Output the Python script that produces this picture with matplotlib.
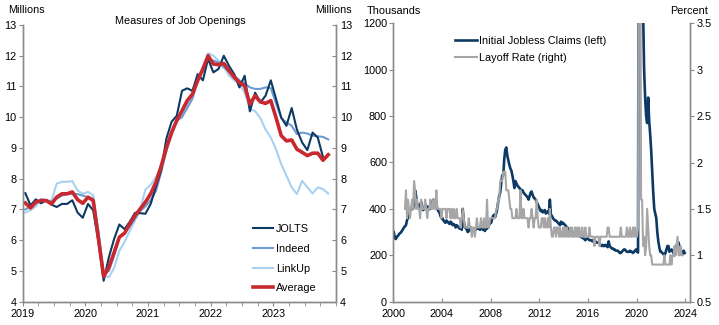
import numpy as np
import matplotlib.pyplot as plt
from matplotlib.ticker import MultipleLocator, FixedLocator

plt.rcParams['font.family'] = ['Liberation Sans', 'DejaVu Sans']
plt.rcParams['font.size'] = 7.8

# ---- left panel: job openings, monthly Jan 2019 onwards (millions)
jolts = [7.53, 7.13, 7.33, 7.2, 7.3, 7.16, 7.08, 7.18, 7.18, 7.3, 6.9, 6.73,
         7.18, 6.97, 5.95, 4.68, 5.45, 6.04, 6.51, 6.36, 6.6, 6.89, 6.88, 6.86,
         7.18, 7.73, 8.27, 9.3, 9.85, 10.05, 10.86, 10.94, 10.86, 11.4, 11.2, 11.9,
         11.46, 11.57, 12.0, 11.67, 11.4, 10.97, 11.35, 10.19, 10.8, 10.48, 10.7, 11.2,
         10.6, 9.99, 9.72, 10.3, 9.6, 9.18, 8.93, 9.5, 9.34, 8.7]
indeed = [7.0, 7.1, 7.2, 7.3, 7.3, 7.25, 7.35, 7.45, 7.5, 7.5, 7.5, 7.45,
          7.4, 7.35, 6.3, 4.9, 5.0, 5.5, 6.1, 6.25, 6.45, 6.7, 6.95, 7.1,
          7.3, 7.6, 8.2, 8.9, 9.5, 9.9, 10.0, 10.3, 10.6, 11.2, 11.5, 11.9,
          11.84, 11.78, 11.62, 11.5, 11.35, 11.2, 11.1, 10.97, 10.92, 10.92, 10.97, 10.95,
          10.45, 9.97, 9.83, 9.72, 9.45, 9.5, 9.47, 9.4, 9.38, 9.36, 9.28]
linkup = [6.9, 6.98, 7.1, 7.35, 7.3, 7.28, 7.84, 7.9, 7.9, 7.92, 7.62, 7.51,
          7.57, 7.46, 6.2, 4.85, 4.8, 5.1, 5.65, 5.95, 6.3, 6.65, 7.0, 7.65,
          7.8, 8.05, 8.4, 8.9, 9.4, 9.85, 10.05, 10.37, 10.7, 11.3, 11.62, 12.08,
          12.0, 11.84, 11.65, 11.35, 11.2, 11.08, 10.8, 10.26, 10.2, 9.97, 9.6, 9.34,
          8.96, 8.47, 8.1, 7.72, 7.5, 7.93, 7.72, 7.52, 7.72, 7.66, 7.52]
average = [7.21, 7.05, 7.24, 7.29, 7.29, 7.18, 7.4, 7.51, 7.51, 7.57, 7.32, 7.2,
           7.4, 7.29, 6.05, 4.82, 5.12, 5.6, 6.1, 6.23, 6.53, 6.8, 7.02, 7.24,
           7.51, 7.88, 8.4, 9.0, 9.5, 9.9, 10.21, 10.54, 10.75, 11.19, 11.57, 12.0,
           11.73, 11.71, 11.75, 11.51, 11.3, 11.13, 11.02, 10.43, 10.7, 10.5, 10.45, 10.54,
           9.99, 9.4, 9.23, 9.26, 8.96, 8.86, 8.75, 8.83, 8.83, 8.6, 8.78]

# ---- right panel: initial claims (thousands), monthly Jan 2000 - Dec 2023
claims = [300, 275, 270, 280, 283, 290, 295, 298, 305, 312, 320, 325,
          330, 350, 365, 390, 400, 395, 405, 400, 430, 480, 455, 420,
          415, 400, 415, 430, 410, 395, 400, 410, 415, 400, 395, 410,
          400, 420, 430, 440, 430, 420, 415, 400, 390, 385, 370, 360,
          360, 350, 345, 340, 350, 345, 340, 335, 345, 340, 330, 335,
          330, 320, 330, 325, 320, 315, 320, 310, 400, 350, 320, 320,
          310, 300, 305, 315, 320, 305, 310, 315, 315, 310, 320, 315,
          320, 310, 315, 320, 310, 310, 305, 315, 315, 320, 330, 340,
          340, 355, 370, 375, 365, 380, 400, 430, 455, 470, 510, 545,
          545, 615, 655, 665, 630, 610, 590, 575, 565, 545, 520, 490,
          520, 510, 500, 495, 490, 485, 480, 480, 470, 465, 460, 455,
          450, 440, 455, 470, 475, 460, 450, 445, 440, 430, 420, 410,
          400, 390, 395, 385, 390, 395, 380, 385, 390, 380, 440, 375,
          370, 360, 355, 350, 350, 345, 340, 335, 330, 345, 335, 340,
          335, 330, 325, 320, 315, 310, 305, 300, 295, 290, 295, 300,
          295, 290, 285, 285, 280, 280, 275, 275, 270, 265, 270, 275,
          270, 265, 265, 265, 260, 265, 260, 260, 255, 255, 255, 250,
          245, 240, 245, 240, 240, 245, 240, 235, 260, 240, 235, 230,
          230, 225, 225, 220, 220, 220, 215, 210, 210, 215, 220, 225,
          225, 220, 215, 215, 215, 220, 215, 215, 210, 215, 220, 225,
          215, 212, 2900, 5000, 2300, 1450, 1250, 1000, 880, 800, 770, 880,
          780, 720, 650, 560, 470, 400, 380, 360, 300, 260, 235, 215,
          215, 210, 205, 200, 210, 225, 240, 240, 215, 220, 225, 220,
          210, 200, 230, 240, 255, 255, 235, 225, 210, 205, 220, 210]

# layoff rate (percent), monthly Dec 2000 - Oct 2023
layoff = [1.5,
          1.7, 1.4, 1.6, 1.5, 1.4, 1.5, 1.6, 1.5, 1.8, 1.7, 1.5, 1.6,
          1.5, 1.5, 1.4, 1.6, 1.5, 1.5, 1.5, 1.6, 1.5, 1.4, 1.5, 1.5,
          1.6, 1.5, 1.5, 1.6, 1.5, 1.5, 1.7, 1.5, 1.5, 1.5, 1.5, 1.4,
          1.5, 1.5, 1.5, 1.5, 1.4, 1.5, 1.5, 1.5, 1.4, 1.5, 1.4, 1.5,
          1.4, 1.4, 1.5, 1.4, 1.4, 1.4, 1.3, 1.4, 1.5, 1.4, 1.3, 1.3,
          1.3, 1.3, 1.4, 1.3, 1.3, 1.2, 1.3, 1.3, 1.2, 1.3, 1.4, 1.3,
          1.3, 1.3, 1.4, 1.3, 1.3, 1.4, 1.3, 1.3, 1.6, 1.3, 1.3, 1.4,
          1.4, 1.4, 1.4, 1.4, 1.4, 1.5, 1.5, 1.6, 1.6, 1.8, 1.8, 1.8,
          1.9, 1.9, 1.9, 1.7, 1.7, 1.7, 1.6, 1.5, 1.5, 1.4, 1.4, 1.4,
          1.4, 1.5, 1.4, 1.4, 1.4, 1.7, 1.4, 1.4, 1.5, 1.4, 1.4, 1.4,
          1.4, 1.3, 1.4, 1.4, 1.5, 1.4, 1.3, 1.4, 1.4, 1.6, 1.4, 1.3,
          1.3, 1.3, 1.4, 1.4, 1.3, 1.4, 1.3, 1.3, 1.4, 1.3, 1.5, 1.3,
          1.2, 1.2, 1.3, 1.3, 1.2, 1.3, 1.3, 1.2, 1.3, 1.2, 1.2, 1.3,
          1.2, 1.3, 1.2, 1.3, 1.2, 1.2, 1.3, 1.2, 1.3, 1.2, 1.2, 1.3,
          1.2, 1.3, 1.2, 1.3, 1.2, 1.2, 1.3, 1.2, 1.2, 1.3, 1.2, 1.2,
          1.2, 1.3, 1.2, 1.2, 1.2, 1.2, 1.1, 1.2, 1.2, 1.2, 1.2, 1.1,
          1.2, 1.2, 1.2, 1.2, 1.2, 1.2, 1.2, 1.3, 1.3, 1.2, 1.2, 1.2,
          1.2, 1.2, 1.2, 1.2, 1.2, 1.2, 1.2, 1.2, 1.3, 1.2, 1.2, 1.2,
          1.2, 1.2, 1.3, 1.2, 1.2, 1.3, 1.2, 1.2, 1.3, 1.2, 1.3, 1.2,
          1.2, 1.3, 7.5, 5.9, 1.6, 1.6, 1.1, 1.2, 1.0, 1.1, 1.5, 1.3,
          1.1, 1.0, 1.0, 0.9, 0.9, 0.9, 0.9, 0.9, 0.9, 0.9, 0.9, 0.9,
          0.9, 0.9, 0.9, 1.0, 0.9, 0.9, 0.9, 0.9, 0.9, 1.0, 0.9, 1.0,
          1.0, 1.1, 1.0, 1.1, 1.2, 1.0, 1.0, 1.1, 1.0, 1.0]

jobs_x = 2019 + (np.arange(len(indeed)) + 0.5) / 12
claims_x = 2000 + (np.arange(len(claims)) + 0.5) / 12
layoff_x = 2000 + (np.arange(len(layoff)) + 11.5) / 12

spine_col = '#8c8c8c'
navy = '#0c3a64'
fs = 7.8

fig = plt.figure(figsize=(7.19, 3.25), dpi=100)

# ================= left panel
ax1 = fig.add_axes([0.0316, 0.0717, 0.4358, 0.8514])
ax1.plot(jobs_x, linkup, color='#a9d0f0', lw=1.5, label='LinkUp', zorder=2)
ax1.plot(jobs_x, indeed, color='#6e9bd1', lw=1.5, label='Indeed', zorder=3)
ax1.plot(jobs_x[:len(jolts)], jolts, color=navy, lw=1.5, label='JOLTS', zorder=4)
ax1.plot(jobs_x, average, color='#c8282e', lw=2.6, label='Average', zorder=5)
ax1.set_xlim(2019, 2024)
ax1.set_ylim(4, 13)
ax1.set_xticks([2019, 2020, 2021, 2022, 2023])
ax1.xaxis.set_minor_locator(MultipleLocator(0.25))
ax1.yaxis.set_major_locator(MultipleLocator(1))
ax1.tick_params(axis='x', which='both', direction='out', length=3, color=spine_col, pad=2, labelsize=fs)
ax1.tick_params(axis='y', direction='out', length=3, color=spine_col, pad=1.5, labelsize=fs)
ax1r = ax1.twinx()
ax1r.set_ylim(4, 13)
ax1r.yaxis.set_major_locator(MultipleLocator(1))
ax1r.tick_params(axis='y', direction='in', length=3, color=spine_col, pad=3, labelsize=fs)
for a in (ax1, ax1r):
    a.spines['top'].set_visible(False)
    for s in ('left', 'right', 'bottom'):
        a.spines[s].set_color(spine_col)
        a.spines[s].set_linewidth(1.0)

h, l = ax1.get_legend_handles_labels()
order = [2, 1, 0, 3]
ax1.legend([h[i] for i in order], [l[i] for i in order], loc='upper left',
           bbox_to_anchor=(253 / 719, 1 - 224 / 325), bbox_transform=fig.transFigure,
           frameon=False, fontsize=fs, handlelength=1.85, handletextpad=0.28,
           labelspacing=0.9, borderpad=0, borderaxespad=0)

fig.text(8 / 719, 1 - 10 / 325, 'Millions', ha='left', va='center', fontsize=fs)
fig.text(352 / 719, 1 - 10 / 325, 'Millions', ha='right', va='center', fontsize=fs)
fig.text(180 / 719, 1 - 21 / 325, 'Measures of Job Openings', ha='center', va='center', fontsize=fs)

# ================= right panel
ax2 = fig.add_axes([0.547, 0.0717, 0.4127, 0.8566])
ax2.plot(claims_x, claims, color=navy, lw=1.9, label='Initial Jobless Claims (left)', zorder=3)
ax2.set_xlim(2000, 2024.4)
ax2.set_ylim(0, 1200)
ax2.set_xticks(range(2000, 2025, 4))
ax2.yaxis.set_major_locator(MultipleLocator(200))
ax2.tick_params(axis='x', direction='in', length=3, color=spine_col, pad=5, labelsize=fs)
ax2.tick_params(axis='y', direction='out', length=3, color=spine_col, pad=1.5, labelsize=fs)

ax2r = ax2.twinx()
ax2r.plot(layoff_x, layoff, color='#a6a6a6', lw=1.5, label='Layoff Rate (right)')
ax2r.set_ylim(0.5, 3.5)
ax2r.yaxis.set_major_locator(FixedLocator([0.5, 1, 1.5, 2, 2.5, 3, 3.5]))
ax2r.set_yticklabels(['0.5', '1', '1.5', '2', '2.5', '3', '3.5'])
ax2r.tick_params(axis='y', direction='out', length=3, color=spine_col, pad=1.5, labelsize=fs)
for a in (ax2, ax2r):
    a.spines['top'].set_visible(False)
    for s in ('left', 'right', 'bottom'):
        a.spines[s].set_color(spine_col)
        a.spines[s].set_linewidth(1.0)

h1, l1 = ax2.get_legend_handles_labels()
h2, l2 = ax2r.get_legend_handles_labels()
ax2r.legend(h1 + h2, l1 + l2, loc='upper left',
            bbox_to_anchor=(455 / 719, 1 - 36 / 325), bbox_transform=fig.transFigure,
            frameon=False, fontsize=fs, handlelength=2.0, handletextpad=0.2,
            labelspacing=0.65, borderpad=0, borderaxespad=0)

fig.text(367 / 719, 1 - 11 / 325, 'Thousands', ha='left', va='center', fontsize=fs)
fig.text(708 / 719, 1 - 11 / 325, 'Percent', ha='right', va='center', fontsize=fs)

fig.savefig('out.png', dpi=100)
